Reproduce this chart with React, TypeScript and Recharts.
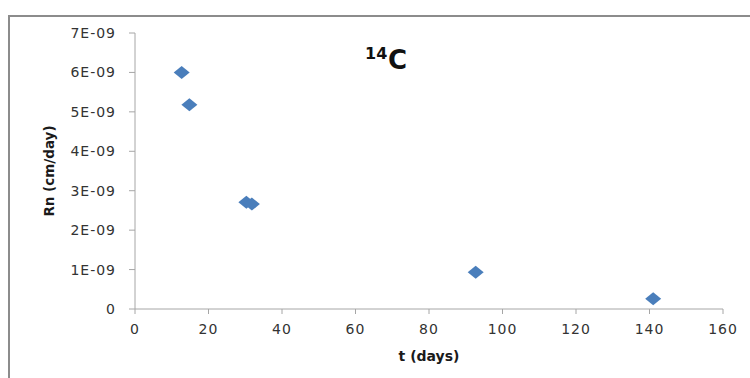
import { ScatterChart, Scatter, XAxis, YAxis } from 'recharts';

const T_DAYS = [12.7, 14.8, 30.3, 31.8, 92.7, 141];
const RN = [6.0e-9, 5.18e-9, 2.71e-9, 2.66e-9, 0.93e-9, 0.26e-9];
const X_TICKS = [0, 20, 40, 60, 80, 100, 120, 140, 160];
const Y_TICKS = [0, 1e-9, 2e-9, 3e-9, 4e-9, 5e-9, 6e-9, 7e-9];

const points = T_DAYS.map((t, i) => ({ t, rn: RN[i] }));

const AXIS = '#a6a6a6';
const MARKER = '#4a7ebb';
const TICK_STYLE = { fill: '#333', fontSize: 14, fontFamily: 'DejaVu Sans', letterSpacing: 1 };

const fmtY = (v: number) => (v === 0 ? '0' : `${Math.round(v * 1e9)}E-09`);

// wide flat diamond, like the Excel marker
const Diamond = (props: any) => {
  const { cx, cy } = props;
  if (cx == null || cy == null) return null;
  return (
    <polygon
      points={`${cx - 8},${cy} ${cx},${cy - 6.5} ${cx + 8},${cy} ${cx},${cy + 6.5}`}
      fill={MARKER}
    />
  );
};

export default function App() {
  return (
    <div
      style={{
        position: 'absolute',
        left: 8,
        top: 15,
        width: 742,
        height: 363,
        borderTop: '2px solid #8c8c8c',
        borderLeft: '2px solid #8c8c8c',
        background: '#fff',
      }}
    >
      <ScatterChart width={740} height={361} margin={{ top: 16, right: 27, left: 0, bottom: 0 }}>
        <XAxis
          type="number"
          dataKey="t"
          domain={[0, 160]}
          ticks={X_TICKS}
          interval={0}
          stroke={AXIS}
          tickSize={5}
          tickMargin={10}
          height={69}
          tick={TICK_STYLE}
          label={{
            content: ({ viewBox }: any) => (
              <text
                x={viewBox.x + viewBox.width / 2}
                y={viewBox.y + 47}
                textAnchor="middle"
                dominantBaseline="central"
                fontFamily="DejaVu Sans"
                fontWeight="bold"
                fontSize={14}
                fill="#1a1a1a"
              >
                t (days)
              </text>
            ),
          }}
        />
        <YAxis
          type="number"
          dataKey="rn"
          domain={[0, 7e-9]}
          ticks={Y_TICKS}
          interval={0}
          stroke={AXIS}
          tickSize={6}
          tickMargin={13}
          width={125}
          tickFormatter={fmtY}
          tick={TICK_STYLE}
          label={{
            content: ({ viewBox }: any) => {
              const x = viewBox.x + 39;
              const y = viewBox.y + viewBox.height / 2;
              return (
                <text
                  x={x}
                  y={y}
                  transform={`rotate(-90 ${x} ${y})`}
                  textAnchor="middle"
                  dominantBaseline="central"
                  fontFamily="DejaVu Sans"
                  fontWeight="bold"
                  fontSize={13.5}
                  fill="#1a1a1a"
                >
                  Rn (cm/day)
                </text>
              );
            },
          }}
        />
        <Scatter data={points} shape={<Diamond />} isAnimationActive={false} />
      </ScatterChart>

      {/* title: superscript 14 + C */}
      <span
        style={{
          position: 'absolute',
          left: 355,
          top: 29,
          fontFamily: 'DejaVu Sans',
          fontWeight: 'bold',
          fontSize: 16,
          lineHeight: 1,
          color: '#111',
        }}
      >
        14
      </span>
      <span
        style={{
          position: 'absolute',
          left: 378,
          top: 30,
          fontFamily: 'DejaVu Sans',
          fontWeight: 'bold',
          fontSize: 26,
          lineHeight: 1,
          color: '#111',
        }}
      >
        C
      </span>
    </div>
  );
}
